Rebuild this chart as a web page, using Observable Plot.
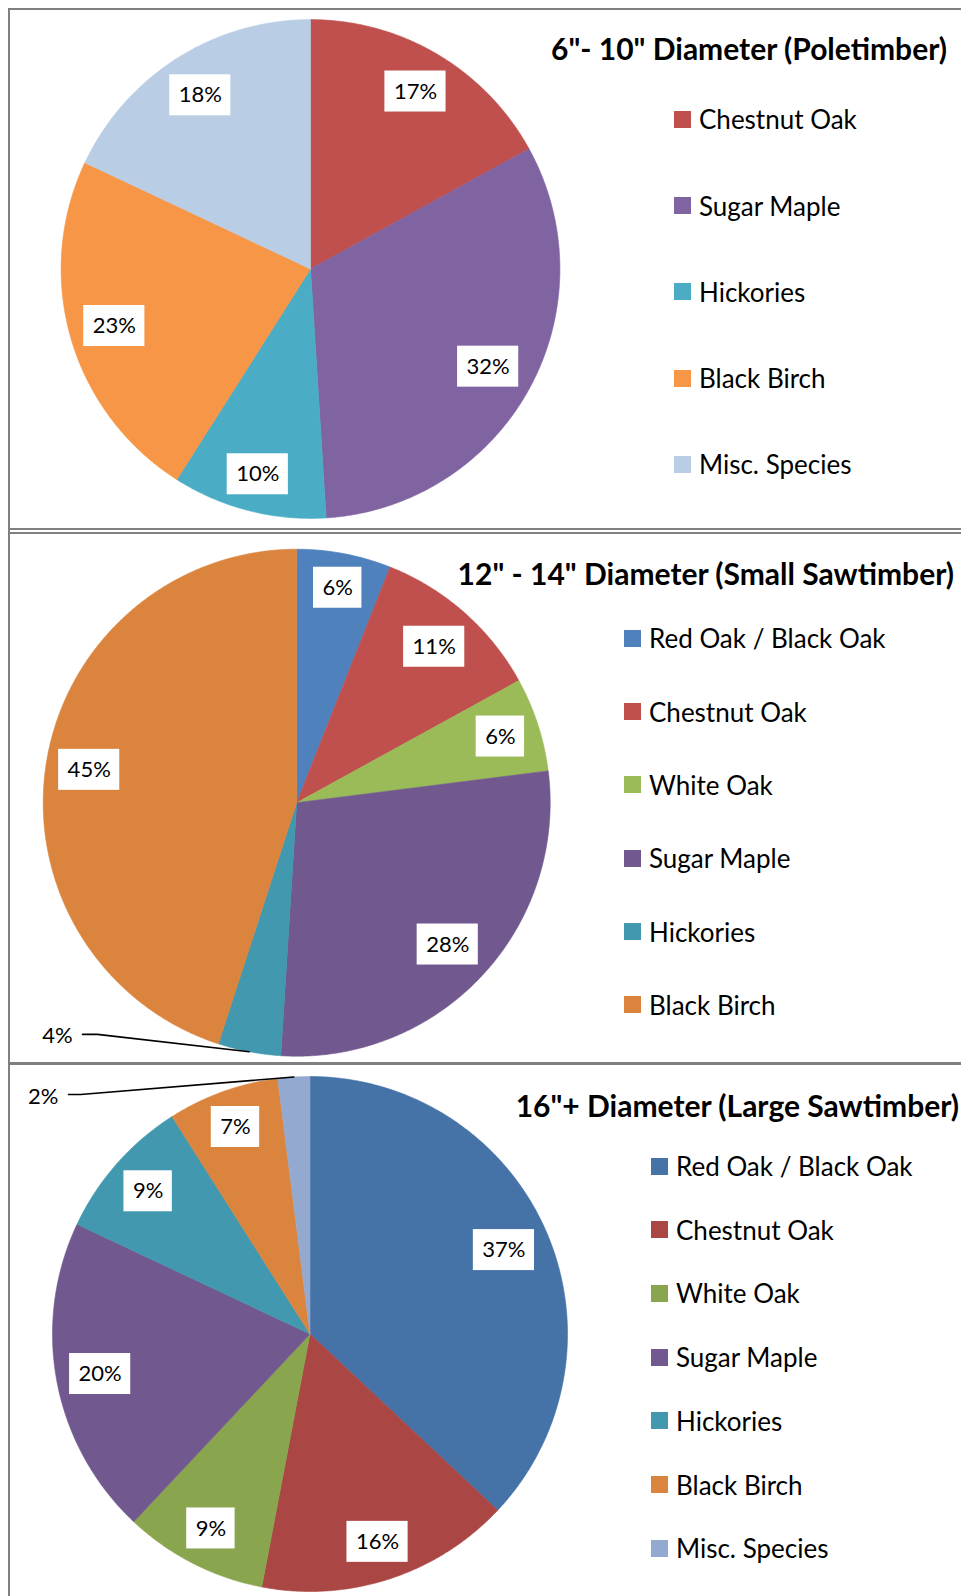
<!DOCTYPE html>
<html><head><meta charset="utf-8">
<script src="https://cdn.jsdelivr.net/npm/d3@7"></script>
<script src="https://cdn.jsdelivr.net/npm/@observablehq/plot@0.6"></script>
<style>
body{margin:0;background:#fff;font-family:Lato,"Open Sans",sans-serif;}
#wrap{position:relative;width:961px;height:1596px;overflow:hidden;background:#fff;}
.title{position:absolute;font-weight:700;font-size:30px;line-height:34px;white-space:nowrap;color:#000;}
.leg{position:absolute;display:flex;align-items:center;font-size:26px;line-height:30px;height:30px;white-space:nowrap;color:#000;}
.sw{width:17px;height:17px;margin-right:8px;flex:none;}
.line{position:absolute;background:#808080;}
</style></head><body><div id="wrap"></div>
<script>
// ---- data ----
const titles = ['6"- 10" Diameter (Poletimber)', '12" - 14" Diameter (Small Sawtimber)', '16"+ Diameter (Large Sawtimber)'];

const species1 = ["Chestnut Oak", "Sugar Maple", "Hickories", "Black Birch", "Misc. Species"];
const values1 = [17, 32, 10, 23, 18];
const colors1 = ["#C0504D", "#8064A2", "#4BACC6", "#F79646", "#B9CDE5"];

const species2 = ["Red Oak / Black Oak", "Chestnut Oak", "White Oak", "Sugar Maple", "Hickories", "Black Birch"];
const values2 = [6, 11, 6, 28, 4, 45];
const colors2 = ["#4F81BD", "#C0504D", "#9BBB59", "#71588F", "#4198AF", "#DB843D"];

const species3 = ["Red Oak / Black Oak", "Chestnut Oak", "White Oak", "Sugar Maple", "Hickories", "Black Birch", "Misc. Species"];
const values3 = [37, 16, 9, 20, 9, 7, 2];
const colors3 = ["#4572A7", "#AA4643", "#89A54E", "#71588F", "#4198AF", "#DB843D", "#93A9CF"];

// ---- drawing ----
const wrap = document.getElementById("wrap");
const ctx = document.createElement("canvas").getContext("2d");
ctx.font = "22px Lato";

function piePlot({species, values, colors, top, height, cx, cy, r, edgeGap, callout}) {
  const arcs = d3.pie().sort(null).value(d => d)(values);
  const slices = [];
  arcs.forEach((a, i) => {
    const name = species[i];
    slices.push({name, x: 0, y: 0});
    const n = Math.max(2, Math.ceil((a.endAngle - a.startAngle) / (Math.PI / 360)));
    for (let k = 0; k <= n; k++) {
      const t = a.startAngle + (a.endAngle - a.startAngle) * k / n;
      slices.push({name, x: Math.sin(t), y: Math.cos(t)});
    }
    slices.push({name, x: 0, y: 0});
  });
  const labels = [], outLabels = [], leaders = [];
  arcs.forEach((a, i) => {
    const m = (a.startAngle + a.endAngle) / 2;
    const text = a.value + "%";
    const ux = Math.sin(m), uy = Math.cos(m);
    if (callout && callout.index === i) {
      outLabels.push({x: callout.tx, y: callout.ty, label: text});
      leaders.push({x: callout.lx0, y: callout.ly0});
      leaders.push({x: callout.lx1, y: callout.ly0});
      leaders.push({x: ux, y: uy});
    } else {
      const hwPx = (ctx.measureText(text).width + 18) / 2, hhPx = 20.5;
      // box sits inside the slice, a fixed gap from the rim
      const ext = hwPx * Math.abs(ux) + hhPx * Math.abs(uy);
      const dist = (r - edgeGap - ext) / r;
      const x = dist * ux, y = dist * uy;
      const hw = hwPx / r, hh = hhPx / r;
      labels.push({x, y, label: text, x1: x - hw, x2: x + hw, y1: y - hh, y2: y + hh});
    }
  });
  const svg = Plot.plot({
    width: 961, height, margin: 0,
    style: {background: "transparent", overflow: "visible", fontFamily: "Lato"},
    x: {domain: [-1, 1], range: [cx - r, cx + r], axis: null},
    y: {domain: [-1, 1], range: [cy + r, cy - r], axis: null},
    color: {domain: species, range: colors},
    marks: [
      Plot.line(slices, {x: "x", y: "y", z: "name", fill: "name", stroke: "name", strokeWidth: 0.6, curve: "linear"}),
      Plot.rect(labels, {x1: "x1", x2: "x2", y1: "y1", y2: "y2", fill: "white"}),
      Plot.text(labels, {x: "x", y: "y", text: "label", fontSize: 22, fontFamily: "Lato", fill: "black"}),
      Plot.line(leaders, {x: "x", y: "y", stroke: "black", strokeWidth: 1.6}),
      Plot.text(outLabels, {x: "x", y: "y", text: "label", fontSize: 22, fontFamily: "Lato", fill: "black", textAnchor: "end"})
    ]
  });
  svg.style.position = "absolute";
  svg.style.left = "0px";
  svg.style.top = top + "px";
  wrap.appendChild(svg);
}

function legend(species, colors, x, y0, step) {
  species.forEach((s, i) => {
    const d = document.createElement("div");
    d.className = "leg";
    d.style.left = x + "px";
    d.style.top = (y0 + i * step - 15) + "px";
    d.innerHTML = `<div class="sw" style="background:${colors[i]}"></div><span>${s}</span>`;
    wrap.appendChild(d);
  });
}

function title(text, right, cy) {
  const d = document.createElement("div");
  d.className = "title";
  d.style.right = (961 - right) + "px";
  d.style.top = (cy - 17) + "px";
  d.textContent = text;
  wrap.appendChild(d);
}

piePlot({species: species1, values: values1, colors: colors1, top: 0, height: 528,
  cx: 310, cy: 268.5, r: 249.4, edgeGap: 10});
piePlot({species: species2, values: values2, colors: colors2, top: 533, height: 529,
  cx: 296.2, cy: 269.2, r: 253.5, edgeGap: 10,
  callout: {index: 4, tx: -0.884, ty: -0.922, lx0: -0.845, lx1: -0.786, ly0: -0.914}});
piePlot({species: species3, values: values3, colors: colors3, top: 1065, height: 531,
  cx: 309.5, cy: 268.5, r: 257.5, edgeGap: 10,
  callout: {index: 6, tx: -0.977, ty: 0.922, lx0: -0.938, lx1: -0.891, ly0: 0.930}});

title(titles[0], 947, 47.5);
title(titles[1], 954, 573);
title(titles[2], 959, 1105);

legend(species1, colors1, 674, 119.3, 86.25);
legend(species2, colors2, 624, 638.3, 73.3);
legend(species3, colors3, 651, 1166, 63.7);

// frame lines
[[8, 8, 953, 2], [8, 8, 2, 1588], [8, 528, 953, 2], [8, 531.5, 953, 2], [8, 1062, 953, 3]].forEach(([l, t, w, h]) => {
  const d = document.createElement("div");
  d.className = "line";
  Object.assign(d.style, {left: l + "px", top: t + "px", width: w + "px", height: h + "px"});
  wrap.appendChild(d);
});
</script></body></html>
